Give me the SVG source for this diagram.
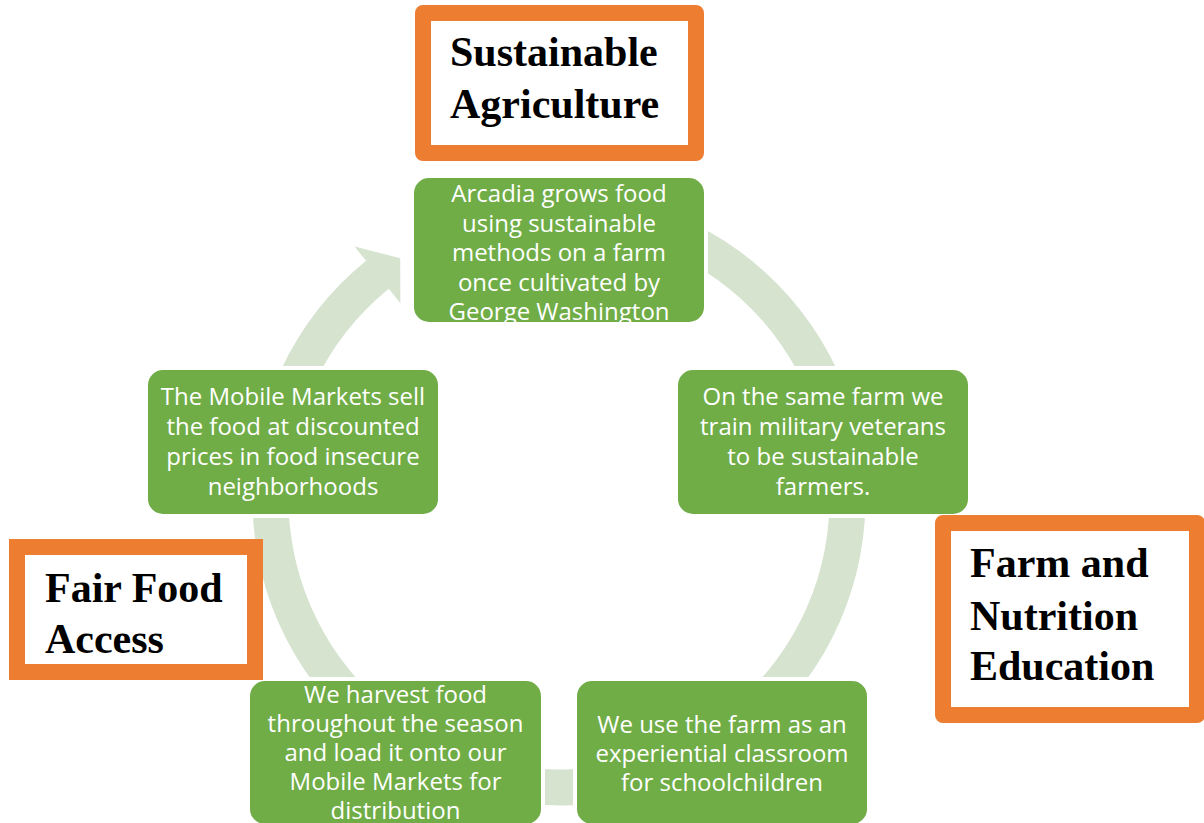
<svg xmlns="http://www.w3.org/2000/svg" width="1204" height="823" viewBox="0 0 1204 823">
  <style>
    .ring { fill: #D5E3CF; }
    .step rect { fill: #70AD47; stroke: #FFFFFF; stroke-width: 4; }
    .step text { font-family: "Open Sans", "Liberation Sans", sans-serif; font-size: 24px; fill: #FFFFFF; text-anchor: middle; }
    .theme rect { fill: #FFFFFF; stroke: #ED7D31; stroke-width: 16; }
    .theme text { font-family: "Liberation Serif", "DejaVu Serif", serif; font-size: 42px; font-weight: bold; fill: #000000; }
  </style>
  <rect x="0" y="0" width="1204" height="823" fill="#FFFFFF"/>

  <!-- circular arrow running clockwise behind the steps, head pointing back into the first step -->
  <g id="connectors">
    <path class="ring" d="M 612.22 197.16 A 306.5 306.5 0 1 1 366.1 260.8 L 354.5 246.4 L 400.2 258.2 L 400.4 303.2 L 388.8 288.8 A 270.5 270.5 0 1 0 605.97 232.61 Z"/>
  </g>

  <!-- cycle steps (white outline separates them from the ring) -->
  <g id="step-grow" class="step">
    <rect x="412" y="176" width="294" height="148" rx="17"/>
    <text x="559" y="202">Arcadia grows food</text>
    <text x="559" y="231.5">using sustainable</text>
    <text x="559" y="261">methods on a farm</text>
    <text x="559" y="290.5">once cultivated by</text>
    <text x="559" y="320">George Washington</text>
  </g>
  <g id="step-train" class="step">
    <rect x="676" y="368" width="294" height="148" rx="17"/>
    <text x="823" y="404.5">On the same farm we</text>
    <text x="823" y="434.5">train military veterans</text>
    <text x="823" y="464.5">to be sustainable</text>
    <text x="823" y="494.5">farmers.</text>
  </g>
  <g id="step-classroom" class="step">
    <rect x="575" y="679" width="294" height="147" rx="17"/>
    <text x="722" y="732.5">We use the farm as an</text>
    <text x="722" y="761.5">experiential classroom</text>
    <text x="722" y="790.5">for schoolchildren</text>
  </g>
  <g id="step-harvest" class="step">
    <rect x="248" y="679" width="295" height="147" rx="17"/>
    <text x="395.5" y="702.5">We harvest food</text>
    <text x="395.5" y="731.5">throughout the season</text>
    <text x="395.5" y="760.5">and load it onto our</text>
    <text x="395.5" y="789.5">Mobile Markets for</text>
    <text x="395.5" y="818.5">distribution</text>
  </g>
  <g id="step-sell" class="step">
    <rect x="146" y="368" width="294" height="148" rx="17"/>
    <text x="293" y="405">The Mobile Markets sell</text>
    <text x="293" y="435">the food at discounted</text>
    <text x="293" y="465">prices in food insecure</text>
    <text x="293" y="494.5">neighborhoods</text>
  </g>

  <!-- theme labels -->
  <g id="theme-agriculture" class="theme">
    <rect x="423" y="13" width="273" height="140" stroke-linejoin="round"/>
    <text x="450" y="66">Sustainable</text>
    <text x="450" y="118">Agriculture</text>
  </g>
  <g id="theme-access" class="theme">
    <rect x="17" y="547" width="238" height="125"/>
    <text x="45" y="602">Fair Food</text>
    <text x="45" y="653">Access</text>
  </g>
  <g id="theme-education" class="theme">
    <rect x="943" y="523" width="254" height="192" stroke-linejoin="round"/>
    <text x="970" y="577">Farm and</text>
    <text x="970" y="630">Nutrition</text>
    <text x="970" y="680">Education</text>
  </g>
</svg>
